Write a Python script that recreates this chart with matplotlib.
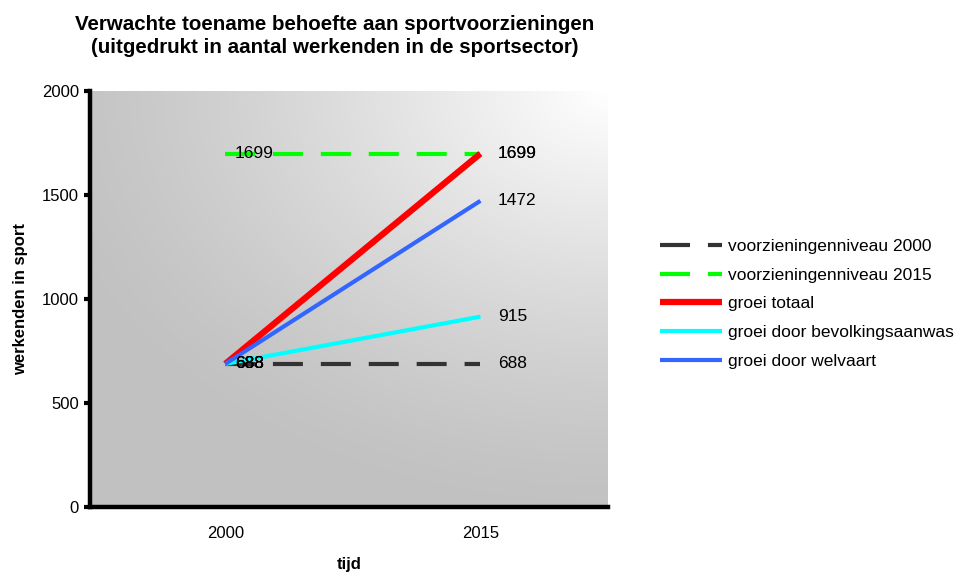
import numpy as np
import matplotlib
matplotlib.use('Agg')
import matplotlib.pyplot as plt

plt.rcParams['font.family'] = ['Liberation Sans', 'DejaVu Sans']

# data
jaren = ['2000', '2015']
niveau_2000 = [688, 688]
niveau_2015 = [1699, 1699]
groei_totaal = [688, 1699]
groei_bevolking = [688, 915]
groei_welvaart = [688, 1472]

x = np.arange(len(jaren))

fig = plt.figure(figsize=(9.62, 5.73), dpi=100)
ax = fig.add_axes([90/962, 1-507/573, (608-90)/962, (507-91)/573])

# gradient background (white top-right, grey bottom-left)
gx, gy = np.meshgrid(np.linspace(0, 1, 300), np.linspace(0, 1, 300))
d = np.sqrt((1-gx)**2*0.8 + (1-gy)**2)
v = 1 - np.clip(d/1.0, 0, 1)
col = 0.76 + 0.24*v**1.3
img = np.dstack([col, col, col])
ax.imshow(img, extent=[0, 1, 0, 1], origin='lower', transform=ax.transAxes,
          aspect='auto', zorder=0)

dash = (0, (7.2, 4.3))
ax.plot(x, niveau_2000, color='#333333', lw=3, linestyle=dash, label='voorzieningenniveau 2000', zorder=3)
ax.plot(x, niveau_2015, color='#00ff00', lw=3, linestyle=dash, label='voorzieningenniveau 2015', zorder=3)
ax.plot(x, groei_totaal, color='#ff0000', lw=4.5, label='groei totaal', zorder=3, solid_capstyle='butt')
ax.plot(x, groei_bevolking, color='#00ffff', lw=3, label='groei door bevolkingsaanwas', zorder=3, solid_capstyle='butt')
ax.plot(x, groei_welvaart, color='#3366ff', lw=3, label='groei door welvaart', zorder=3, solid_capstyle='butt')

# data labels
for serie in [niveau_2000, niveau_2015, groei_totaal, groei_bevolking, groei_welvaart]:
    ax.annotate(str(serie[0]), (x[0], serie[0]), xytext=(7, 0), textcoords='offset points',
                ha='left', va='center', fontsize=12.5, zorder=5)
    ax.annotate(str(serie[1]), (x[1], serie[1]), xytext=(12.5, 0), textcoords='offset points',
                ha='left', va='center', fontsize=12.5, zorder=5)

ax.set_xlim(-0.53, 1.5)
ax.set_ylim(0, 2000)
ax.set_yticks([0, 500, 1000, 1500, 2000])
ax.set_xticks(x)
ax.set_xticklabels(jaren)
ax.tick_params(axis='y', length=4, width=3, labelsize=12, pad=4)
ax.tick_params(axis='x', length=0, labelsize=12, pad=14)

for s in ['top', 'right']:
    ax.spines[s].set_visible(False)
ax.spines['left'].set_linewidth(3.2)
ax.spines['bottom'].set_linewidth(3.2)

ax.set_xlabel('tijd', fontweight='bold', fontsize=12, labelpad=11)
ax.set_ylabel('werkenden in sport', fontweight='bold', fontsize=12, labelpad=10)

fig.text(335/962, 1-36/573, 'Verwachte toename behoefte aan sportvoorzieningen\n(uitgedrukt in aantal werkenden in de sportsector)',
         ha='center', va='center', fontsize=14.8, fontweight='bold', linespacing=1.3)

fig.legend(loc='upper left', bbox_to_anchor=(653/962, 1-232/573), frameon=False,
           fontsize=12.5, handlelength=3.6, handletextpad=0.3, labelspacing=0.78,
           borderaxespad=0)

fig.savefig('out.png', dpi=100)
